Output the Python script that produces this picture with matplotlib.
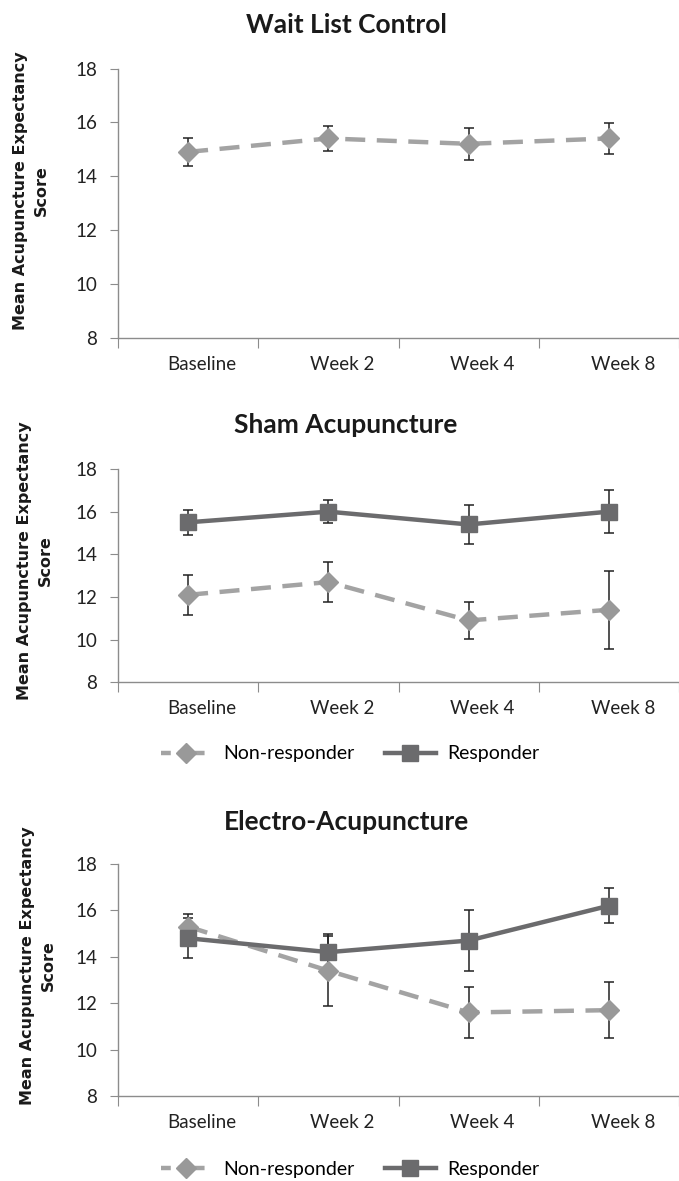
import numpy as np
import matplotlib
matplotlib.use('Agg')
import matplotlib.pyplot as plt
from matplotlib.lines import Line2D

# data
weeks = ['Baseline', 'Week 2', 'Week 4', 'Week 8']

wait_non = [14.9, 15.4, 15.2, 15.4]
wait_non_err = [0.53, 0.45, 0.6, 0.58]

sham_non = [12.1, 12.7, 10.9, 11.4]
sham_non_err = [0.95, 0.94, 0.87, 1.84]
sham_resp = [15.5, 16.0, 15.4, 16.0]
sham_resp_err = [0.6, 0.55, 0.93, 1.0]

ea_non = [15.3, 13.4, 11.6, 11.7]
ea_non_err = [0.55, 1.5, 1.1, 1.2]
ea_resp = [14.8, 14.2, 14.7, 16.2]
ea_resp_err = [0.87, 0.8, 1.3, 0.75]

NON_COL = '#a3a3a3'
NON_MK = '#999999'
RESP_COL = '#6b6b6d'
AXIS_COL = '#8c8c8c'
TXT = 'Lato'

W, H = 679, 1181
fig = plt.figure(figsize=(W / 100, H / 100), dpi=100)


def px_axes(top, bottom):
    return fig.add_axes([118 / W, 1 - bottom / H, 1 - 118 / W, (bottom - top) / H])


def style(ax):
    x = np.arange(len(weeks))
    ax.set_xlim(-0.5, len(weeks) - 0.5)
    ax.set_ylim(8, 18)
    ax.set_yticks(np.arange(8, 19, 2))
    ax.set_xticks(np.arange(len(weeks) + 1) - 0.5)
    ax.set_xticklabels([])
    ax.set_xticks(x + 0.1, minor=True)
    ax.set_xticklabels(weeks, minor=True, fontfamily=TXT, fontsize=13.5, color='#222222')
    ax.tick_params(axis='x', which='major', direction='out', length=7, color=AXIS_COL)
    ax.tick_params(axis='x', which='minor', length=0, pad=13)
    ax.tick_params(axis='y', direction='out', length=6, color=AXIS_COL, pad=9,
                   labelsize=13.5, labelcolor='#222222')
    for lab in ax.get_yticklabels():
        lab.set_fontfamily(TXT)
    for s in ['top', 'right']:
        ax.spines[s].set_visible(False)
    for s in ['left', 'bottom']:
        ax.spines[s].set_color(AXIS_COL)
        ax.spines[s].set_linewidth(1.0)


def draw(ax, vals, errs, kind):
    x = np.arange(len(weeks))
    ax.errorbar(x, vals, yerr=errs, fmt='none', ecolor='#222222', elinewidth=1.1,
                capsize=3.3, capthick=1.1, zorder=2)
    if kind == 'non':
        ax.plot(x, vals, color=NON_COL, lw=3.2, dashes=(4.5, 2.6), marker='D',
                markersize=10, markerfacecolor=NON_MK, markeredgecolor=NON_MK,
                zorder=3, clip_on=False)
    else:
        ax.plot(x, vals, color=RESP_COL, lw=3.2, marker='s', markersize=11.5,
                markerfacecolor=RESP_COL, markeredgecolor=RESP_COL, zorder=4,
                clip_on=False)


def ylabel(xc, yc):
    fig.text(xc / W, 1 - yc / H, 'Mean Acupuncture Expectancy\nScore', rotation=90,
             ha='center', va='center', multialignment='center', fontsize=11.5,
             fontweight='bold', fontfamily='DejaVu Sans', linespacing=1.45,
             color='#1a1a1a')


def title(yc, text):
    fig.text(346 / W, 1 - yc / H, text, ha='center', va='center', fontsize=19,
             fontweight='bold', fontfamily=TXT, color='#1a1a1a')


def legend(yc):
    h = [Line2D([], [], color=NON_COL, lw=3.2, dashes=(2.2, 1.6), marker='D',
                markersize=10, markerfacecolor=NON_MK, markeredgecolor=NON_MK),
         Line2D([], [], color=RESP_COL, lw=3.2, marker='s', markersize=11.5,
                markerfacecolor=RESP_COL, markeredgecolor=RESP_COL)]
    fig.legend(h, ['Non-responder', 'Responder'], loc='center',
               bbox_to_anchor=(350 / W, 1 - yc / H), ncol=2, frameon=False,
               prop={'family': TXT, 'size': 14}, handlelength=2.6,
               handletextpad=0.6, columnspacing=1.6)


# Wait list control
ax1 = px_axes(68.5, 337.5)
draw(ax1, wait_non, wait_non_err, 'non')
style(ax1)
title(25, 'Wait List Control')
ylabel(31, 191)

# Sham acupuncture
ax2 = px_axes(469, 682.3)
draw(ax2, sham_non, sham_non_err, 'non')
draw(ax2, sham_resp, sham_resp_err, 'resp')
style(ax2)
title(425, 'Sham Acupuncture')
ylabel(35, 561)
legend(754)

# Electro-acupuncture
ax3 = px_axes(864, 1096)
draw(ax3, ea_non, ea_non_err, 'non')
draw(ax3, ea_resp, ea_resp_err, 'resp')
style(ax3)
title(822, 'Electro-Acupuncture')
ylabel(38, 966)
legend(1169)

fig.savefig('out.png', dpi=100)
